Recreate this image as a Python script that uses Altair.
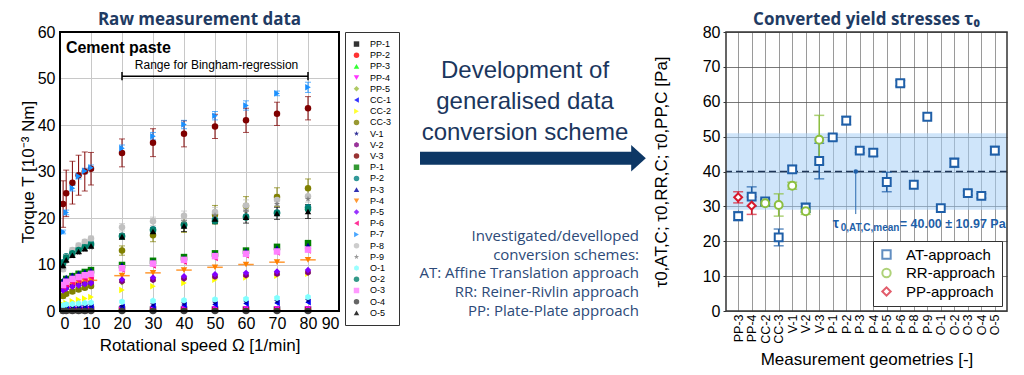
import altair as alt
import pandas as pd

# ---------------- left panel: raw measurement data ----------------
speeds = [1, 2, 4, 6, 8, 10, 20, 30, 40, 50, 60, 70, 80]

series_names = ["PP-1", "PP-2", "PP-3", "PP-4", "PP-5", "CC-1", "CC-2", "CC-3",
                "V-1", "V-2", "V-3", "P-1", "P-2", "P-3", "P-4", "P-5", "P-6",
                "P-7", "P-8", "P-9", "O-1", "O-2", "O-3", "O-4", "O-5"]
series_colors = ["#000000", "#ff0000", "#00ff00", "#ff00ff", "#9bbb3c", "#0000ff",
                 "#ffff00", "#808000", "#000080", "#800080", "#800000", "#008000",
                 "#008080", "#0000a0", "#ff8000", "#8000ff", "#ff0080", "#1a90ff",
                 "#c0c0c0", "#808080", "#80ffff", "#00806a", "#ff80ff", "#404040",
                 "#000000"]
STAR = "M0,-1L0.2245,-0.309L0.951,-0.309L0.363,0.118L0.588,0.809L0,0.382L-0.588,0.809L-0.363,0.118L-0.951,-0.309L-0.2245,-0.309Z"
HEX = "M0,-1L0.866,-0.5L0.866,0.5L0,1L-0.866,0.5L-0.866,-0.5Z"
series_shapes = ["square", "circle", "triangle-up", "triangle-down", "diamond",
                 "triangle-left", "triangle-right", "circle", STAR, HEX, "circle",
                 "square", "circle", "triangle-up", "triangle-down", "diamond",
                 "triangle-left", "triangle-right", "circle", STAR, HEX, "circle",
                 "square", "circle", "triangle-up"]

torque_PP1 = [0.2, 0.2, 0.2, 0.2, 0.2, 0.3, 0.3, 0.3, 0.3, 0.3, 0.3, 0.3, 0.3]
torque_PP2 = [0.1, 0.1, 0.2, 0.2, 0.2, 0.2, 0.2, 0.2, 0.2, 0.2, 0.2, 0.2, 0.2]
torque_PP3 = [0.3, 0.3, 0.4, 0.4, 0.4, 0.4, 0.5, 0.5, 0.5, 0.5, 0.5, 0.5, 0.5]
torque_PP4 = [0.2, 0.2, 0.3, 0.3, 0.3, 0.3, 0.3, 0.4, 0.4, 0.4, 0.4, 0.4, 0.4]
torque_PP5 = [3.6, 4.0, 4.5, 4.8, 5.1, 5.3, 6.2, 6.6, 7.0, 7.3, 7.6, 7.9, 8.2]
torque_CC1 = [0.4, 0.5, 0.6, 0.7, 0.8, 0.9, 0.9, 1.1, 1.3, 1.4, 1.6, 1.7, 1.9]
torque_CC2 = [1.4, 1.7, 2.1, 2.4, 2.7, 3.0, 4.5, 5.3, 6.0, 6.7, 7.2, 7.6, 8.0]
torque_CC3 = [3.2, 3.7, 4.2, 4.6, 5.0, 5.4, 13.0, 16.3, 18.6, 20.7, 22.6, 24.5, 26.4]
torque_V1 = [0.7, 0.8, 0.9, 1.0, 1.1, 1.2, 1.1, 1.4, 1.6, 1.8, 2.0, 2.1, 2.3]
torque_V2 = [4.6, 5.0, 5.4, 5.7, 5.9, 6.1, 6.4, 6.7, 7.0, 7.4, 7.7, 8.0, 8.3]
torque_V3 = [23.0, 25.3, 27.6, 29.2, 30.0, 30.6, 34.0, 36.2, 38.1, 39.7, 41.0, 42.4, 43.6]
torque_P1 = [6.2, 6.9, 7.5, 8.0, 8.4, 8.8, 9.9, 10.8, 11.6, 12.4, 13.0, 13.8, 14.6]
torque_P2 = [10.5, 11.8, 12.8, 13.4, 14.0, 14.5, 16.2, 17.6, 18.6, 19.6, 20.3, 21.2, 22.3]
torque_P3 = [6.6, 7.2, 7.7, 8.1, 8.4, 8.7, 9.8, 10.6, 11.4, 12.2, 12.9, 13.5, 14.1]
torque_P4 = [5.0, 5.3, 5.8, 6.1, 6.4, 6.6, 7.6, 8.2, 8.8, 9.4, 10.0, 10.5, 11.0]
torque_P5 = [4.4, 4.8, 5.2, 5.5, 5.8, 6.0, 6.8, 7.2, 7.5, 7.9, 8.2, 8.5, 8.8]
torque_P6 = [5.2, 5.7, 6.2, 6.6, 7.0, 7.3, 8.9, 9.8, 10.6, 11.4, 12.0, 12.6, 13.0]
torque_P7 = [17.0, 21.2, 26.4, 29.0, 30.1, 30.8, 35.0, 37.6, 40.1, 42.0, 44.2, 46.8, 48.1]
torque_P8 = [9.0, 11.6, 13.1, 14.1, 14.9, 15.6, 18.0, 19.3, 20.5, 21.3, 22.7, 23.9, 24.7]
torque_P9 = [9.4, 10.7, 11.8, 12.5, 13.2, 13.7, 16.4, 17.6, 19.0, 20.6, 21.6, 23.0, 24.1]
torque_O1 = [1.2, 1.4, 1.5, 1.6, 1.7, 1.8, 2.0, 2.2, 2.3, 2.5, 2.6, 2.8, 3.0]
torque_O2 = [10.2, 11.5, 12.4, 13.1, 13.7, 14.2, 16.0, 17.3, 18.4, 19.3, 20.1, 21.0, 21.9]
torque_O3 = [5.6, 6.3, 6.9, 7.3, 7.7, 8.0, 9.2, 10.2, 11.0, 11.8, 12.3, 12.8, 13.2]
torque_O4 = [0.0, 0.0, 0.0, 0.0, 0.0, 0.0, 0.0, 0.0, 0.0, 0.0, 0.0, 0.0, 0.0]
torque_O5 = [9.8, 11.0, 12.0, 12.8, 13.4, 14.0, 16.0, 17.1, 18.3, 19.8, 20.2, 21.0, 21.4]

err_V3 = [5.0, 5.0, 4.6, 4.3, 4.2, 3.5, 3.0, 3.0, 2.8, 2.6, 2.6, 2.5, 2.5]
err_P7 = [0.4, 0.5, 0.6, 0.6, 0.6, 0.6, 0.7, 0.8, 0.9, 0.9, 1.0, 0.5, 1.1]
err_CC3 = [0.4, 0.4, 0.4, 0.4, 0.4, 0.4, 1.0, 1.4, 1.7, 2.0, 2.0, 2.0, 2.0]
err_P8 = [0.5, 0.5, 0.5, 0.5, 0.5, 0.5, 0.8, 0.9, 1.0, 1.0, 1.2, 1.2, 1.3]
err_O5 = [0.4, 0.4, 0.4, 0.4, 0.4, 0.4, 0.6, 0.8, 1.2, 1.0, 1.3, 1.3, 1.5]
xerr_P4 = [1.5, 1.5, 1.5, 1.5, 2.0, 2.0, 2.5, 2.5, 2.5, 2.5, 2.5, 2.5, 2.5]

series_torque = {
    "PP-1": torque_PP1, "PP-2": torque_PP2, "PP-3": torque_PP3, "PP-4": torque_PP4,
    "PP-5": torque_PP5, "CC-1": torque_CC1, "CC-2": torque_CC2, "CC-3": torque_CC3,
    "V-1": torque_V1, "V-2": torque_V2, "V-3": torque_V3, "P-1": torque_P1,
    "P-2": torque_P2, "P-3": torque_P3, "P-4": torque_P4, "P-5": torque_P5,
    "P-6": torque_P6, "P-7": torque_P7, "P-8": torque_P8, "P-9": torque_P9,
    "O-1": torque_O1, "O-2": torque_O2, "O-3": torque_O3, "O-4": torque_O4,
    "O-5": torque_O5,
}
series_err = {"V-3": err_V3, "P-7": err_P7, "CC-3": err_CC3, "P-8": err_P8, "O-5": err_O5}
color_of = dict(zip(series_names, series_colors))

rows, err_rows, xerr_rows = [], [], []
for name in series_names:
    for i, s in enumerate(speeds):
        v = series_torque[name][i]
        rows.append({"series": name, "speed": s, "torque": v})
        if name in series_err:
            e = series_err[name][i]
            err_rows.append({"series": name, "col": color_of[name], "speed": s, "lo": v - e, "hi": v + e})
for i, s in enumerate(speeds):
    v = torque_P4[i]
    xerr_rows.append({"series": "P-4", "col": color_of["P-4"], "torque": v,
                      "xlo": max(s - xerr_P4[i], 0), "xhi": s + xerr_P4[i]})

df_left = pd.DataFrame(rows)
df_err = pd.DataFrame(err_rows)
df_xerr = pd.DataFrame(xerr_rows)

NAVY = "#1f3b63"
x_scale_l = alt.Scale(domain=[0, 90], nice=False, padding=0)
x_axis_l = alt.Axis(values=list(range(0, 91, 10)), title="Rotational speed Ω [1/min]",
                    grid=True, gridColor="#c8c8c8", ticks=False, domain=False, labelOverlap=False,
                    labelFontSize=16, titleFontSize=17, labelPadding=4, titlePadding=6)
y_scale_l = alt.Scale(domain=[0, 60], nice=False, padding=0)
y_axis_l = alt.Axis(values=list(range(0, 61, 10)), title="Torque T [10⁻³ Nm]",
                    grid=True, gridColor="#c8c8c8", ticks=False, domain=False, labelOverlap=False,
                    labelFontSize=16, titleFontSize=17, labelPadding=5, titlePadding=0)


def xl(field):
    return alt.X(field, scale=x_scale_l, axis=x_axis_l)


def yl(field):
    return alt.Y(field, scale=y_scale_l, axis=y_axis_l)


col_direct = alt.Color("col:N", scale=None)

err_rule = alt.Chart(df_err).mark_rule(strokeWidth=1).encode(
    x=xl("speed:Q"), y=yl("lo:Q"), y2="hi:Q", color=col_direct)
err_cap_hi = alt.Chart(df_err).mark_tick(orient="horizontal", size=6, thickness=1).encode(
    x=xl("speed:Q"), y=yl("hi:Q"), color=col_direct)
err_cap_lo = alt.Chart(df_err).mark_tick(orient="horizontal", size=6, thickness=1).encode(
    x=xl("speed:Q"), y=yl("lo:Q"), color=col_direct)
xerr_rule = alt.Chart(df_xerr).mark_rule(strokeWidth=1.5, opacity=0.8).encode(
    x=xl("xlo:Q"), x2="xhi:Q", y=yl("torque:Q"), color=col_direct)

points_left = alt.Chart(df_left).mark_point(filled=True, size=42, opacity=1).encode(
    x=xl("speed:Q"), y=yl("torque:Q"),
    color=alt.Color("series:N", scale=alt.Scale(domain=series_names, range=series_colors),
                    legend=alt.Legend(title=None, orient="right", offset=6, labelFontSize=9,
                                      symbolSize=30, rowPadding=0.2, padding=7, clipHeight=10.1,
                                      strokeColor="#333", fillColor="white", labelOffset=9,
                                      labelFont="Liberation Sans")),
    shape=alt.Shape("series:N", scale=alt.Scale(domain=series_names, range=series_shapes)),
)

cement_df = pd.DataFrame({"speed": [1.9], "torque": [56.5], "label": ["Cement paste"]})
cement_text = alt.Chart(cement_df).mark_text(align="left", baseline="middle", fontSize=16,
                                             fontWeight="bold", color="black").encode(
    x=xl("speed:Q"), y=yl("torque:Q"), text="label:N")

bracket_df = pd.DataFrame({"x0": [20], "x1": [80], "yb": [50.5]})
bracket = alt.Chart(bracket_df).mark_rule(strokeWidth=1.5, color="black").encode(
    x=xl("x0:Q"), x2="x1:Q", y=yl("yb:Q"))
bracket_ends_df = pd.DataFrame({"x": [20, 80], "y0": [49.6, 49.6], "y1": [51.4, 51.4]})
bracket_ends = alt.Chart(bracket_ends_df).mark_rule(strokeWidth=1.5, color="black").encode(
    x=xl("x:Q"), y=yl("y0:Q"), y2="y1:Q")
range_df = pd.DataFrame({"x": [50.5], "y": [52.9], "label": ["Range for Bingham-regression"]})
range_text = alt.Chart(range_df).mark_text(fontSize=12, color="black", baseline="middle").encode(
    x=xl("x:Q"), y=yl("y:Q"), text="label:N")

frame_df = pd.DataFrame({"f": [1]})
frame_left = alt.Chart(frame_df).mark_rect(fillOpacity=0, stroke="black", strokeWidth=2).encode(
    x=alt.value(0), x2=alt.value("width"), y=alt.value(0), y2=alt.value("height"))

left = alt.layer(xerr_rule, err_rule, err_cap_hi, err_cap_lo, points_left, cement_text,
                 bracket, bracket_ends, range_text, frame_left).properties(
    width=279, height=279,
    title=alt.TitleParams("Raw measurement data", font="Open Sans", fontSize=17,
                          fontWeight="bold", color=NAVY, offset=-5, anchor="middle", frame="group"),
)

# ---------------- middle panel: text and arrow ----------------
ARROW_NAVY = "#0d3765"
headline_lines = ["Development of", "generalised data", "conversion scheme"]
headline_y = [39, 70, 101]
scheme_lines = ["Investigated/develloped", "conversion schemes:",
                "AT: Affine Translation approach", "RR: Reiner-Rivlin approach",
                "PP: Plate-Plate approach"]
scheme_y = [204, 223, 241, 260, 279]

mx = alt.Scale(domain=[0, 252], nice=False)
my = alt.Scale(domain=[0, 279], nice=False, reverse=True)
shaft_df = pd.DataFrame({"x0": [20], "x1": [232], "y": [126.3]})
shaft = alt.Chart(shaft_df).mark_rule(strokeWidth=13, color=ARROW_NAVY, strokeCap="butt").encode(
    x=alt.X("x0:Q", scale=mx, axis=None), x2="x1:Q", y=alt.Y("y:Q", scale=my, axis=None))
TRI = "M-0.55,-1L0.55,0L-0.55,1Z"
head_df = pd.DataFrame({"x": [238.5], "y": [126.3]})
head = alt.Chart(head_df).mark_point(shape=TRI, size=710, filled=True, color=ARROW_NAVY,
                                     opacity=1, strokeWidth=0).encode(
    x=alt.X("x:Q", scale=mx, axis=None), y=alt.Y("y:Q", scale=my, axis=None))
headline_df = pd.DataFrame({"x": [125] * 3, "y": headline_y, "t": headline_lines})
headline = alt.Chart(headline_df).mark_text(fontSize=24, font="Liberation Sans", color="#1b365d",
                                            align="center", baseline="middle").encode(
    x=alt.X("x:Q", scale=mx, axis=None), y=alt.Y("y:Q", scale=my, axis=None), text="t:N")
scheme_df = pd.DataFrame({"x": [239] * 5, "y": scheme_y, "t": scheme_lines})
scheme = alt.Chart(scheme_df).mark_text(fontSize=15, font="Open Sans", color="#2c4a78",
                                        align="right", baseline="middle").encode(
    x=alt.X("x:Q", scale=mx, axis=None), y=alt.Y("y:Q", scale=my, axis=None), text="t:N")
mid = alt.layer(shaft, head, headline, scheme).properties(width=252, height=279)

# ---------------- right panel: converted yield stresses ----------------
geoms = ["PP-3", "PP-4", "CC-2", "CC-3", "V-1", "V-2", "V-3", "P-1", "P-2", "P-3",
         "P-4", "P-5", "P-6", "P-8", "P-9", "O-1", "O-2", "O-3", "O-4", "O-5"]
at_tau = [27.2, 32.8, 31.4, 21.1, 40.6, 29.6, 43.0, 49.8, 54.6, 46.0,
          45.4, 37.0, 65.3, 36.2, 55.7, 29.5, 42.5, 33.8, 33.0, 46.0]
at_err = [1.3, 2.8, 0.6, 2.4, 1.1, 1.3, 5.1, 0.8, 1.2, 0.6,
          1.0, 2.8, 0.8, 0.0, 0.0, 0.0, 1.3, 0.6, 0.6, 1.2]
rr_geoms = ["CC-2", "CC-3", "V-1", "V-2", "V-3"]
rr_tau = [30.9, 30.4, 35.9, 28.6, 49.1]
rr_err = [0.8, 3.2, 1.0, 0.9, 7.0]
pp_geoms = ["PP-3", "PP-4"]
pp_tau = [32.6, 30.2]
pp_err = [1.6, 2.5]
tau_mean = 40.00
tau_sd = 10.97

approaches = ["AT-approach", "RR-approach", "PP-approach"]
approach_colors = ["#1f5fa8", "#8cbf3f", "#d7192d"]
approach_shapes = ["square", "circle", "diamond"]
approach_color_of = dict(zip(approaches, approach_colors))

rrows = []
for g, v, e in zip(geoms, at_tau, at_err):
    rrows.append({"geom": g, "approach": "AT-approach", "tau": v, "lo": v - e, "hi": v + e, "e": e})
for g, v, e in zip(rr_geoms, rr_tau, rr_err):
    rrows.append({"geom": g, "approach": "RR-approach", "tau": v, "lo": v - e, "hi": v + e, "e": e})
for g, v, e in zip(pp_geoms, pp_tau, pp_err):
    rrows.append({"geom": g, "approach": "PP-approach", "tau": v, "lo": v - e, "hi": v + e, "e": e})
df_right = pd.DataFrame(rrows)
df_right["col"] = df_right["approach"].map(approach_color_of)
df_right_err = df_right[df_right["e"] > 0]

x_scale_r = alt.Scale(type="point", domain=geoms, padding=0.9)
x_axis_r = alt.Axis(title="Measurement geometries [-]", labelAngle=270, labelFontSize=12.5,
                    titleFontSize=17, grid=True, gridColor="#9a9a9a", gridWidth=1,
                    ticks=False, domain=False, labelPadding=3, titlePadding=8)
y_scale_r = alt.Scale(domain=[0, 80], nice=False, padding=0)
y_axis_r = alt.Axis(title="τ0,AT,C; τ0,RR,C; τ0,PP,C [Pa]", values=list(range(0, 81, 10)),
                    labelFontSize=16, titleFontSize=17, grid=True, gridColor="#555555",
                    gridWidth=0.8, tickSize=3, tickColor="#333", domain=False, labelOverlap=False,
                    labelPadding=3, titlePadding=32)


def xr(field):
    return alt.X(field, scale=x_scale_r, sort=geoms, axis=x_axis_r)


def yr(field):
    return alt.Y(field, scale=y_scale_r, axis=y_axis_r)


band_df = pd.DataFrame({"lo": [tau_mean - tau_sd], "hi": [tau_mean + tau_sd], "m": [tau_mean]})
band = alt.Chart(band_df).mark_rect(color="#a8d0f5", opacity=0.55).encode(
    x=alt.value(0), x2=alt.value("width"), y=yr("lo:Q"), y2="hi:Q")
mean_line = alt.Chart(band_df).mark_rule(color="#1d3557", strokeDash=[7, 4], strokeWidth=1.5).encode(
    y=yr("m:Q"))

r_err = alt.Chart(df_right_err).mark_rule(strokeWidth=1.5).encode(
    x=xr("geom:N"), y=yr("lo:Q"), y2="hi:Q", color=col_direct)
r_cap_hi = alt.Chart(df_right_err).mark_tick(orient="horizontal", size=10, thickness=1.5).encode(
    x=xr("geom:N"), y=yr("hi:Q"), color=col_direct)
r_cap_lo = alt.Chart(df_right_err).mark_tick(orient="horizontal", size=10, thickness=1.5).encode(
    x=xr("geom:N"), y=yr("lo:Q"), color=col_direct)

callout_df = pd.DataFrame({"geom": ["P-3"], "y0": [tau_mean], "y1": [27.8]})
callout = alt.Chart(callout_df).mark_rule(color="#2a6ab0", strokeWidth=1, xOffset=-4).encode(
    x=xr("geom:N"), y=yr("y0:Q"), y2="y1:Q")
callout_dot = alt.Chart(callout_df).mark_point(filled=True, size=22, color="#1f5fa8", opacity=1,
                                               xOffset=-4).encode(
    x=xr("geom:N"), y=yr("y0:Q"))

points_right = alt.Chart(df_right).mark_point(size=62, strokeWidth=2, fill="white", fillOpacity=1,
                                              opacity=1).encode(
    x=xr("geom:N"), y=yr("tau:Q"),
    color=alt.Color("approach:N", scale=alt.Scale(domain=approaches, range=approach_colors),
                    legend=alt.Legend(title=None, orient="bottom-right", offset=5, labelFontSize=15,
                                      symbolSize=70, symbolStrokeWidth=2, padding=6, rowPadding=1.5,
                                      strokeColor="#333", fillColor="white", labelOffset=12,
                                      labelFont="Liberation Sans")),
    shape=alt.Shape("approach:N", scale=alt.Scale(domain=approaches, range=approach_shapes)),
)

ann_df = pd.DataFrame({"geom": ["P-1"], "y": [24.9], "tau_sym": ["τ"], "sub": ["0,AT,C,mean"],
                       "val": ["= %.2f ± %.2f Pa" % (tau_mean, tau_sd)]})
ann_tau = alt.Chart(ann_df).mark_text(align="left", baseline="middle", fontSize=14, fontWeight="bold",
                                      color="#1f5fa8").encode(
    x=xr("geom:N"), y=yr("y:Q"), text="tau_sym:N")
ann_sub = alt.Chart(ann_df).mark_text(align="left", baseline="middle", fontSize=10, fontWeight="bold",
                                      color="#1f5fa8", dx=8, dy=4).encode(
    x=xr("geom:N"), y=yr("y:Q"), text="sub:N")
ann_val = alt.Chart(ann_df).mark_text(align="left", baseline="middle", fontSize=12.5, fontWeight="bold",
                                      color="#1f5fa8", dx=67).encode(
    x=xr("geom:N"), y=yr("y:Q"), text="val:N")

frame_right = alt.Chart(frame_df).mark_rect(fillOpacity=0, stroke="#333333", strokeWidth=1.5).encode(
    x=alt.value(0), x2=alt.value("width"), y=alt.value(0), y2=alt.value("height"))

right = alt.layer(band, mean_line, callout, callout_dot, r_err, r_cap_hi, r_cap_lo, points_right,
                  ann_tau, ann_sub, ann_val, frame_right).properties(
    width=281, height=279,
    title=alt.TitleParams("Converted yield stresses τ₀", font="Open Sans", fontSize=17,
                          fontWeight="bold", color=NAVY, offset=-5, anchor="middle", frame="group"),
)

chart = alt.hconcat(left, mid, right, spacing=0).resolve_scale(
    color="independent", shape="independent", x="independent", y="independent"
).resolve_legend(color="independent", shape="independent").properties(
    padding={"left": 11, "top": 3, "right": 0, "bottom": 0}
).configure(font="Liberation Sans").configure_view(stroke=None).configure_axis(
    labelColor="black", titleColor="black", titleFontWeight="normal",
    labelFont="Liberation Sans", titleFont="Liberation Sans"
)

chart.save("out.html", embed_options={"renderer": "svg", "actions": False})
